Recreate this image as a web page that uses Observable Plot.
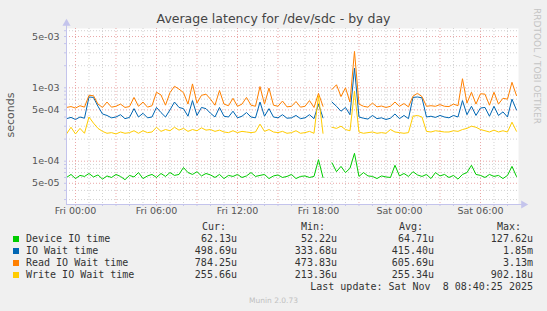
<!DOCTYPE html>
<html><head><meta charset="utf-8">
<script src="https://cdn.jsdelivr.net/npm/d3@7"></script>
<script src="https://cdn.jsdelivr.net/npm/@observablehq/plot@0.6"></script>
<style>
body{margin:0;background:#f0f0f0;}
#c{position:relative;width:547px;height:311px;overflow:hidden;font-family:"DejaVu Sans",sans-serif;background:#f0f0f0;}
#c svg{position:absolute;left:0;top:0;}
.t{position:absolute;white-space:pre;}
.mono{font-family:"DejaVu Sans Mono",monospace;font-size:10px;color:#333;line-height:12px;height:12px;}
.sq{position:absolute;width:6px;height:6px;}
</style></head><body><div id="c"></div>
<script>
// ---- data (values in microseconds, 20-minute steps) ----
const startTime = "2025-11-06T23:20:00Z";
const endTime = "2025-11-08T08:49:00Z";
const stepMinutes = 20;

const deviceIO = [60,66,58,64,62,68,61,65,57,63, 60,66,62,56,64,61,70,58,63,66, 60,68,62,70,64,66,82,70,66,72, 63,68,65,60,66,58,64,62,66,60, 63,70,62,64,66,58,63,65,60,62, 66,58,62,63,60,62,105,60,null,95, 72,85,70,80,128,62,70,63,62,58, 63,61,60,88,63,68,62,72,65,62, 66,58,70,63,66,60,64,57,66,70, 88,66,64,60,66,62,64,58,64,85, 62];
const ioWait = [380,395,370,400,385,750,740,560,440,420, 390,400,430,380,395,520,400,450,390,400, 540,460,400,500,640,540,520,410,670,420, 540,520,450,400,540,410,400,480,390,410, 460,400,390,640,410,520,400,390,430,385, 390,420,380,390,430,380,600,390,null,640, 560,480,540,430,1850,400,385,375,420,380, 390,370,385,440,380,420,380,740,750,730, 400,410,395,420,400,390,420,400,670,430, 560,420,530,540,410,560,420,470,400,700, 499];
const readIO = [540,555,530,570,545,790,780,600,540,640, 545,560,600,540,555,740,560,640,545,570, 870,800,580,860,1050,960,860,600,1130,620, 790,820,700,580,920,600,570,720,560,600, 740,580,560,1040,600,990,580,560,660,550, 560,650,545,560,670,540,840,560,null,950, 1100,760,1000,640,3130,600,560,545,620,550, 565,540,560,640,560,610,550,770,840,760, 560,570,560,590,560,555,600,570,1330,620, 870,600,830,820,580,870,600,720,700,1190, 784];
const writeIO = [235,290,235,280,240,400,330,280,255,240, 245,235,250,240,245,260,240,260,245,250, 290,255,270,260,290,265,280,255,270,260, 285,265,270,255,265,250,245,260,245,255, 250,245,250,320,255,270,250,245,255,240, 245,260,240,245,255,240,780,240,null,290, 280,300,270,260,900,250,240,245,250,240, 245,240,270,250,245,240,245,410,420,400, 255,250,260,255,250,250,260,255,270,280, 300,290,270,260,250,265,250,260,250,340, 256];

const seriesNames = ["Device IO time","IO Wait time","Read IO Wait time","Write IO Wait time"];
const seriesColors = ["#00CC00","#0066B3","#FF8000","#FFCC00"];
const curVals = ["62.13u","498.69u","784.25u","255.66u"];
const minVals = ["52.22u","333.68u","473.83u","213.36u"];
const avgVals = ["64.71u","415.40u","605.69u","255.34u"];
const maxVals = ["127.62u","1.85m","3.13m","902.18u"];
const yLabelTicks = [5e-5, 1e-4, 5e-4, 1e-3, 5e-3];
const yLabelText = ["5e-05", "1e-04", "5e-04", "1e-03", "5e-03"];
const yDomain = [2.57e-5, 6.43e-3];
const titleText = "Average latency for /dev/sdc - by day";
const lastUpdate = "Last update: Sat Nov  8 08:40:25 2025";

// ---- build ----
const t0 = new Date(startTime), tEnd = new Date(endTime);
const times = deviceIO.map((_, i) => new Date(+t0 + i * stepMinutes * 60000));
const toRows = vals => vals.map((v, i) => ({t: times[i], v: v == null ? null : v * 1e-6}));
const allSeries = [deviceIO, ioWait, readIO, writeIO];

const gridY = [];
for (const e of [-5, -4, -3]) for (let k = 1; k <= 9; k++) {
  const v = +(k + "e" + e);
  if (v >= yDomain[0] && v <= yDomain[1]) gridY.push({v, major: k === 1 || k === 5});
}
const hours = d3.utcHour.range(t0, tEnd).map(d => ({t: d, major: d.getUTCHours() % 3 === 0}));
const labelHours = d3.utcHour.every(6).range(t0, tEnd);
const yLabels = yLabelTicks.map((v, i) => ({v, label: yLabelText[i]}));
const lav = "#c4c4ec", minorC = "#d2d2d2", majorC = "#eaa8a8";

const plot = Plot.plot({
  width: 547, height: 311,
  marginLeft: 66, marginRight: 29, marginTop: 28, marginBottom: 107,
  style: {background: "transparent", fontFamily: "DejaVu Sans", fontSize: "9.5px", color: "#555", overflow: "visible"},
  x: {type: "utc", domain: [t0, tEnd]},
  y: {type: "log", domain: yDomain},
  marks: [
    Plot.frame({fill: "white", stroke: null}),
    Plot.ruleY(gridY.filter(d => !d.major), {y: "v", stroke: minorC, strokeDasharray: "1,2"}),
    Plot.ruleX(hours.filter(d => !d.major), {x: "t", stroke: minorC, strokeDasharray: "1,2"}),
    Plot.ruleY(gridY.filter(d => d.major), {y: "v", stroke: majorC, strokeDasharray: "1,2"}),
    Plot.ruleX(hours.filter(d => d.major), {x: "t", stroke: majorC, strokeDasharray: "1,2"}),
    Plot.axisY({ticks: gridY.map(d => d.v), tickFormat: () => "", tickSize: 2, stroke: lav, label: null}),
    Plot.text(yLabels, {y: "v", text: "label", frameAnchor: "left", textAnchor: "end", dx: -7, fill: "#555", fontSize: 9.5}),
    Plot.axisX({ticks: hours.map(d => d.t), tickFormat: () => "", tickSize: 2, stroke: lav, label: null}),
    Plot.axisX({ticks: labelHours, tickFormat: d3.utcFormat("%a %H:%M"), tickSize: 0, tickPadding: 3, label: null, fill: "#555"}),
    ...allSeries.map((s, i) => Plot.line(toRows(s), {x: "t", y: "v", stroke: seriesColors[i], strokeWidth: 1})),
    Plot.ruleX([t0], {stroke: lav, insetTop: -5}),
    Plot.ruleY([yDomain[0]], {stroke: lav, insetRight: -5}),
    Plot.dot([0], {frameAnchor: "top-left", symbol: "triangle", r: 3, fill: lav, stroke: null, dy: -5}),
    Plot.dot([0], {frameAnchor: "bottom-right", symbol: "triangle", rotate: 90, r: 3, fill: lav, stroke: null, dx: 5})
  ]
});

const c = document.getElementById("c");
c.appendChild(plot);

function addText(txt, style, cls = "t") {
  const d = document.createElement("div");
  d.className = cls; d.textContent = txt;
  Object.assign(d.style, style);
  c.appendChild(d);
  return d;
}
addText(titleText, {left: "0px", width: "547px", textAlign: "center", top: "11px", fontSize: "12.5px", lineHeight: "15px", color: "#444"});
addText("seconds", {left: "-39px", top: "109px", width: "100px", textAlign: "center", fontSize: "11px", lineHeight: "12px", color: "#555", transform: "rotate(-90deg)"});
addText("RRDTOOL / TOBI OETIKER", {left: "472px", top: "61px", width: "130px", textAlign: "center", fontSize: "9px", lineHeight: "10px", color: "#c4c4c4", transform: "rotate(90deg)"});

// legend
const colRight = [237, 337, 434, 533];
const headers = ["Cur:", "Min:", "Avg:", "Max:"];
const headerLeft = [202, 301, 399, 497];
headers.forEach((h, j) => addText(h, {left: headerLeft[j] + "px", top: "221px"}, "t mono"));
seriesNames.forEach((name, i) => {
  const top = 233 + i * 12;
  const sq = document.createElement("div");
  sq.className = "sq";
  Object.assign(sq.style, {left: "13px", top: (top + 3) + "px", background: seriesColors[i]});
  c.appendChild(sq);
  addText(name, {left: "26px", top: top + "px"}, "t mono");
  [curVals, minVals, avgVals, maxVals].forEach((arr, j) =>
    addText(arr[i], {right: (547 - colRight[j]) + "px", top: top + "px", textAlign: "right"}, "t mono"));
});
addText(lastUpdate, {right: (547 - 533) + "px", top: "281px"}, "t mono");
addText("Munin 2.0.73", {left: "0px", width: "547px", textAlign: "center", top: "296px", fontSize: "7.5px", lineHeight: "9px", color: "#c0c0c0"});
</script>
</body></html>
